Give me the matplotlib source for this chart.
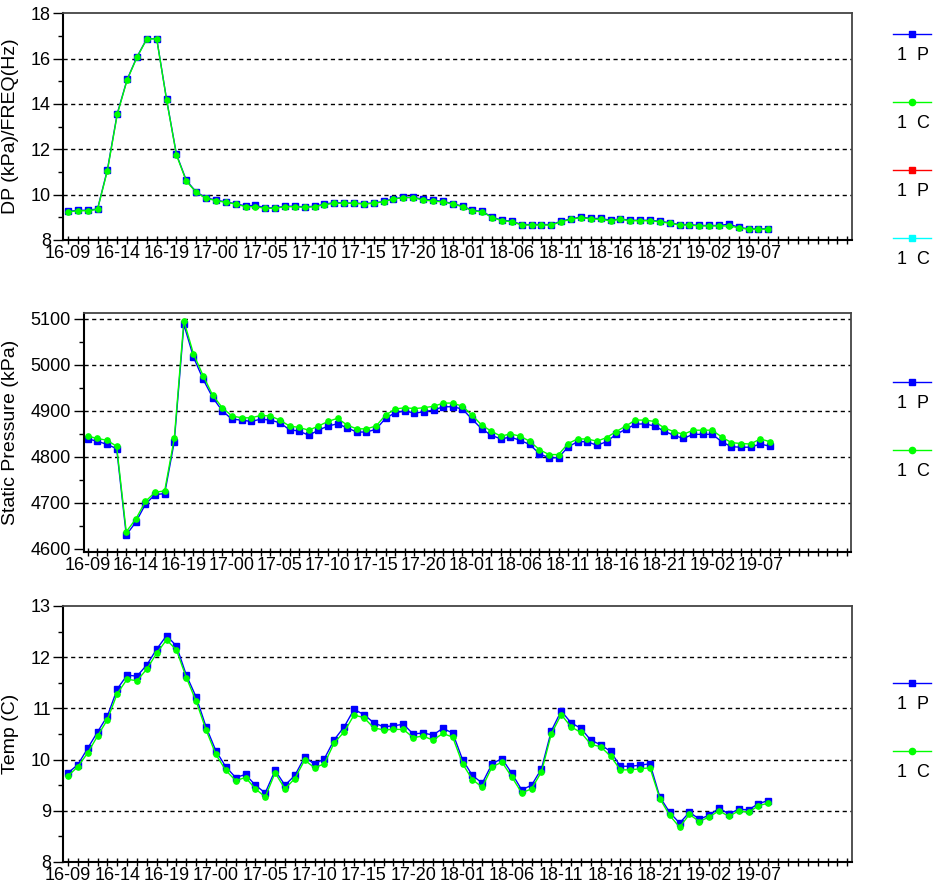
import numpy as np
import matplotlib
matplotlib.use('Agg')
import matplotlib.pyplot as plt
from matplotlib.lines import Line2D

plt.rcParams['font.family'] = ['Liberation Sans', 'DejaVu Sans']

# hourly samples, day-hour, first at 16-09
time_labels = ['16-09', '16-14', '16-19', '17-00', '17-05', '17-10', '17-15',
               '17-20', '18-01', '18-06', '18-11', '18-16', '18-21', '19-02', '19-07']
n_slots = 80

dp_p = [9.26, 9.31, 9.31, 9.37, 11.1, 13.58, 15.08, 16.08, 16.88, 16.88,
        14.2, 11.78, 10.63, 10.12, 9.86, 9.76, 9.68, 9.6, 9.5, 9.53,
        9.42, 9.42, 9.49, 9.49, 9.46, 9.49, 9.58, 9.65, 9.63, 9.63,
        9.61, 9.63, 9.7, 9.82, 9.88, 9.88, 9.8, 9.76, 9.7, 9.61,
        9.49, 9.31, 9.26, 9.01, 8.87, 8.83, 8.68, 8.68, 8.68, 8.68,
        8.83, 8.93, 9.01, 8.95, 8.95, 8.87, 8.93, 8.87, 8.87, 8.87,
        8.83, 8.76, 8.68, 8.68, 8.64, 8.64, 8.64, 8.7, 8.56, 8.49,
        8.49, 8.49]
dp_c = [9.24, 9.29, 9.29, 9.35, 11.06, 13.54, 15.06, 16.06, 16.87, 16.87,
        14.18, 11.75, 10.6, 10.1, 9.84, 9.74, 9.66, 9.59, 9.47, 9.47,
        9.4, 9.4, 9.47, 9.47, 9.44, 9.47, 9.56, 9.62, 9.62, 9.62,
        9.59, 9.62, 9.69, 9.81, 9.87, 9.87, 9.76, 9.72, 9.68, 9.59,
        9.47, 9.29, 9.24, 8.99, 8.85, 8.81, 8.66, 8.66, 8.66, 8.66,
        8.81, 8.91, 8.99, 8.93, 8.91, 8.85, 8.91, 8.85, 8.85, 8.85,
        8.81, 8.74, 8.66, 8.66, 8.62, 8.62, 8.62, 8.62, 8.54, 8.47,
        8.47, 8.47]

press_p = [4839, 4834, 4827, 4818, 4630, 4658, 4697, 4718, 4720, 4833,
           5088, 5017, 4969, 4929, 4900, 4882, 4880, 4877, 4882, 4880,
           4874, 4859, 4856, 4847, 4858, 4867, 4872, 4863, 4854, 4854,
           4860, 4884, 4896, 4900, 4895, 4898, 4902, 4909, 4909, 4904,
           4882, 4861, 4847, 4839, 4843, 4836, 4827, 4807, 4798, 4798,
           4822, 4833, 4833, 4825, 4833, 4849, 4860, 4871, 4872, 4867,
           4856, 4847, 4840, 4849, 4849, 4849, 4833, 4822, 4821, 4821,
           4828, 4823]
press_c = [4845, 4840, 4836, 4823, 4637, 4665, 4703, 4723, 4726, 4840,
           5096, 5024, 4977, 4934, 4907, 4889, 4885, 4885, 4890, 4889,
           4880, 4867, 4864, 4858, 4867, 4877, 4884, 4869, 4861, 4861,
           4867, 4891, 4904, 4907, 4905, 4907, 4910, 4917, 4917, 4910,
           4891, 4869, 4856, 4845, 4850, 4845, 4834, 4816, 4805, 4805,
           4829, 4839, 4839, 4834, 4842, 4855, 4867, 4880, 4880, 4877,
           4863, 4855, 4849, 4858, 4858, 4858, 4843, 4831, 4829, 4828,
           4839, 4833]

temp_p = [9.74, 9.9, 10.22, 10.54, 10.85, 11.38, 11.65, 11.63, 11.85, 12.16,
          12.42, 12.22, 11.65, 11.22, 10.64, 10.17, 9.86, 9.65, 9.71, 9.5,
          9.35, 9.79, 9.5, 9.69, 10.05, 9.91, 10.02, 10.39, 10.64, 10.98,
          10.88, 10.72, 10.64, 10.66, 10.69, 10.5, 10.52, 10.48, 10.61, 10.52,
          10.0, 9.69, 9.54, 9.92, 10.02, 9.73, 9.41, 9.5, 9.82, 10.56,
          10.95, 10.72, 10.61, 10.38, 10.29, 10.16, 9.87, 9.87, 9.89, 9.92,
          9.27, 8.97, 8.76, 8.97, 8.84, 8.91, 9.05, 8.94, 9.03, 9.02,
          9.14, 9.2]
temp_c = [9.68, 9.86, 10.13, 10.46, 10.78, 11.29, 11.57, 11.54, 11.77, 12.08,
          12.34, 12.14, 11.6, 11.14, 10.58, 10.1, 9.79, 9.59, 9.65, 9.43,
          9.27, 9.74, 9.43, 9.63, 9.99, 9.84, 9.92, 10.33, 10.54, 10.87,
          10.82, 10.62, 10.58, 10.59, 10.59, 10.43, 10.46, 10.38, 10.51, 10.44,
          9.92, 9.61, 9.46, 9.86, 9.95, 9.66, 9.35, 9.43, 9.76, 10.5,
          10.88, 10.64, 10.53, 10.3, 10.25, 10.07, 9.8, 9.8, 9.82, 9.84,
          9.24, 8.91, 8.68, 8.93, 8.79, 8.88, 9.0, 8.89, 9.0, 8.97,
          9.1, 9.15]

W, H = 933, 888
BLUE, GREEN, RED, CYAN = '#0000ff', '#00ff00', '#ff0000', '#00ffff'

# (values, colour, marker, legend text)
panels = [
    dict(box=(63.5, 13.3, 851.7, 240), ylim=(8, 18), yticks=np.arange(8, 19, 2),
         ylabel='DP (kPa)/FREQ(Hz)', leg_top=34,
         series=[(dp_p, BLUE, 's', '1  P'), (dp_c, GREEN, 'o', '1  C'),
                 ([], RED, 's', '1  P'), ([], CYAN, 's', '1  C')]),
    dict(box=(83.5, 313, 851, 552), ylim=(4593, 5113), yticks=np.arange(4600, 5101, 100),
         ylabel='Static Pressure (kPa)', leg_top=382,
         series=[(press_p, BLUE, 's', '1  P'), (press_c, GREEN, 'o', '1  C')]),
    dict(box=(63.5, 606, 851.7, 862), ylim=(8, 13), yticks=np.arange(8, 14, 1),
         ylabel='Temp (C)', leg_top=683,
         series=[(temp_p, BLUE, 's', '1  P'), (temp_c, GREEN, 'o', '1  C')]),
]

fig = plt.figure(figsize=(W / 100, H / 100), dpi=100)
fig.patch.set_facecolor('white')

for p in panels:
    left, top, right, bottom = p['box']
    ax = fig.add_axes([left / W, 1 - bottom / H, (right - left) / W, (bottom - top) / H])

    for vals, color, marker, _ in p['series']:
        if len(vals):
            ax.plot(np.arange(len(vals)), vals, color=color, lw=1.0,
                    marker=marker, ms=3.8, mec=color, mfc=color)

    ax.set_xlim(-0.45, n_slots - 0.55)
    ax.set_ylim(*p['ylim'])

    yt = p['yticks']
    step = yt[1] - yt[0]
    ax.set_yticks(yt)
    ax.set_yticks(yt[:-1] + step / 2, minor=True)
    ax.set_yticklabels([f'{v:g}' for v in yt])
    ax.hlines(yt[1:-1] if yt[-1] >= p['ylim'][1] else yt[1:], -0.45, n_slots - 0.55,
              colors='black', lw=1.0, linestyles=(0, (3, 2.5)), zorder=0)

    ax.set_xticks(np.arange(0, 5 * len(time_labels), 5))
    ax.set_xticklabels(time_labels)
    ax.set_xticks(np.arange(n_slots), minor=True)

    ax.tick_params(axis='y', which='major', direction='out', length=7, width=1,
                   labelsize=13, pad=2)
    ax.tick_params(axis='y', which='minor', direction='out', length=3.5, width=1)
    ax.tick_params(axis='x', which='both', direction='inout', length=6, width=1,
                   labelsize=13, pad=0.5)

    for side in ('left', 'bottom'):
        ax.spines[side].set_linewidth(1.5)
        ax.spines[side].set_color('black')
    for side in ('top', 'right'):
        ax.spines[side].set_linewidth(1.3)
        ax.spines[side].set_color('#444444')

    ax.set_ylabel(p['ylabel'], fontsize=14)
    ax.yaxis.set_label_coords(19 / W, 1 - (top + bottom) / 2 / H, transform=fig.transFigure)

    # legend: short line with marker, name written underneath
    for k, (_, color, marker, name) in enumerate(p['series']):
        y = p['leg_top'] + 68 * k
        fig.add_artist(Line2D([893 / W, 931 / W], [1 - y / H, 1 - y / H], color=color,
                              lw=1.0, transform=fig.transFigure))
        fig.add_artist(Line2D([912 / W], [1 - y / H], color=color, marker=marker, ms=4.5,
                              lw=0, transform=fig.transFigure))
        fig.text(913 / W, 1 - (y + 21) / H, name, ha='center', va='center', fontsize=13)

fig.savefig('out.png', dpi=100)
